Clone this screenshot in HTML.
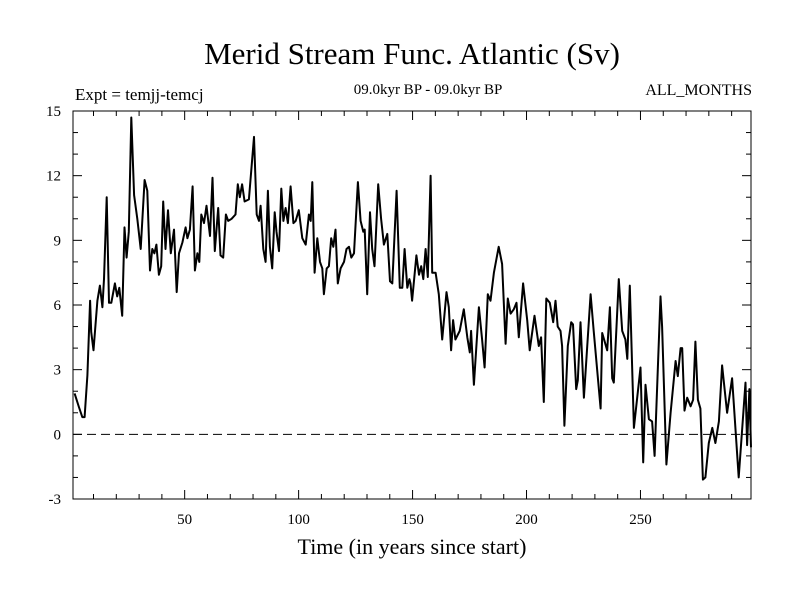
<!DOCTYPE html>
<html><head><meta charset="utf-8"><style>
html,body{margin:0;padding:0;background:#fff;}
svg{display:block;font-family:"Liberation Serif",serif;}
</style></head><body>
<svg id="chart" width="800" height="600" viewBox="0 0 800 600">
<rect width="800" height="600" fill="#fff"/>
<text x="412" y="64" font-size="31" text-anchor="middle">Merid Stream Func. Atlantic (Sv)</text>
<text x="75" y="100" font-size="17">Expt = temjj-temcj</text>
<text x="428" y="94" font-size="15" text-anchor="middle">09.0kyr BP - 09.0kyr BP</text>
<text x="752" y="95" font-size="16" text-anchor="end">ALL_MONTHS</text>
<text x="412" y="554" font-size="22" text-anchor="middle">Time (in years since start)</text>
<g id="axes"></g>
<g id="series"></g>
<rect x="73" y="111" width="678" height="388" fill="none" stroke="#000" stroke-width="1"/>
</svg>
<script>
const years = [1.7,3.6,5.1,6.1,7.3,8.5,9.0,10.0,11.7,12.8,13.9,14.6,15.8,16.8,17.8,19.4,20.4,21.3,22.6,23.6,24.5,25.5,26.6,27.8,29.2,30.7,32.4,33.6,34.8,35.8,36.7,37.6,38.7,39.7,40.6,41.6,42.7,43.9,45.3,46.5,47.5,49.0,50.4,51.2,52.3,53.5,54.5,55.6,56.4,57.3,58.5,59.6,61.1,62.2,63.2,64.7,65.7,66.9,68.1,69.1,70.6,72.3,73.3,74.2,75.2,
76.3,78.2,80.4,81.6,82.6,83.3,84.5,85.5,86.5,87.4,88.4,89.5,90.3,91.4,92.4,93.3,94.3,95.3,96.5,97.7,98.7,100.1,101.6,103.1,104.5,105.3,106.0,107.0,108.2,109.4,110.4,111.1,112.3,113.3,114.3,115.2,116.2,117.2,118.4,119.9,121.0,122.1,123.1,124.3,126.0,127.2,128.4,129.0,130.1,131.3,132.3,133.3,134.9,136.2,137.4,138.9,140.1,141.1,143.0,144.4,145.5,146.5,147.7,148.6,
149.1,149.8,151.7,152.8,153.8,154.7,155.7,156.7,157.9,158.6,160.1,161.5,163.0,164.9,165.9,166.9,167.8,168.8,170.7,172.5,174.0,175.1,175.7,176.9,179.1,180.5,181.6,183.0,184.2,185.7,187.8,189.3,190.8,191.8,193.0,194.4,195.6,196.6,198.5,200.3,201.4,203.5,205.4,206.4,207.6,208.7,210.2,211.7,212.7,213.7,214.9,215.6,216.6,218.1,219.6,220.4,221.8,222.5,223.7,
225.2,228.1,229.5,232.5,233.2,235.4,236.6,237.6,238.3,240.5,242.0,243.4,244.2,245.3,247.1,250.0,251.2,252.2,253.7,255.1,256.2,258.8,259.5,261.4,263.2,265.4,266.4,267.6,268.3,269.3,270.5,272.0,273.1,274.1,275.2,276.3,277.4,278.5,280.0,281.5,282.9,284.4,285.8,288.0,290.2,293.1,296.1,296.8,297.8,298.5];
const values = [1.9,1.27,0.8,0.8,2.74,6.2,4.75,3.9,6.2,6.9,5.9,7.2,11.0,6.1,6.1,7.0,6.4,6.8,5.5,9.6,8.2,9.4,14.7,11.1,10.0,8.6,11.8,11.3,7.6,8.6,8.4,8.8,7.4,7.8,10.8,8.6,10.4,8.4,9.5,6.6,8.4,8.9,9.6,9.1,9.5,11.5,7.6,8.4,8.0,10.2,9.8,10.6,9.2,11.9,8.5,10.5,8.3,8.2,10.2,9.9,10.0,10.2,11.6,11.0,11.6,
10.8,10.9,13.8,10.2,9.9,10.6,8.6,8.0,11.3,8.7,7.7,10.3,9.4,8.5,11.4,9.9,10.5,9.8,11.5,9.8,9.9,10.4,9.1,8.8,10.2,9.9,11.7,7.5,9.1,8.0,7.7,6.5,7.7,7.8,9.1,8.7,9.5,7.0,7.7,8.0,8.6,8.7,8.2,8.4,11.7,9.9,9.4,9.5,6.5,10.3,8.6,7.8,11.6,10.0,8.8,9.3,7.1,7.0,11.3,6.8,6.8,8.6,6.8,7.2,
7.0,6.2,8.3,7.4,7.8,7.2,8.6,7.3,12.0,7.5,7.5,6.5,4.4,6.6,5.9,3.9,5.3,4.4,4.8,5.8,4.5,3.8,4.8,2.3,5.9,4.4,3.1,6.5,6.2,7.5,8.7,7.9,4.2,6.3,5.6,5.8,6.1,4.5,7.0,5.3,3.9,5.5,4.1,4.5,1.5,6.3,6.1,5.2,6.2,5.0,4.8,4.1,0.4,4.1,5.2,5.1,2.1,2.5,5.2,
1.7,6.5,4.8,1.2,4.7,3.9,5.9,2.6,2.4,7.2,4.8,4.4,3.5,6.9,0.3,3.1,-1.3,2.3,0.7,0.6,-1.0,6.4,5.0,-1.4,1.0,3.4,2.7,4.0,4.0,1.1,1.7,1.3,1.6,4.3,1.6,1.2,-2.1,-2.0,-0.4,0.3,-0.4,0.6,3.2,1.0,2.6,-2.0,2.4,-0.5,2.1,-0.6];
const yTicks = [-3,0,3,6,9,12,15];
const xTicks = [50,100,150,200,250];

const X0=73, X1=751, Y0=499, Y1=111, xMin=1, xMax=298.5, yMin=-3, yMax=15;
function xs(v){return X0+(v-xMin)/(xMax-xMin)*(X1-X0);}
function ys(v){return Y0-(v-yMin)/(yMax-yMin)*(Y0-Y1);}
const NS="http://www.w3.org/2000/svg";
const axes=document.getElementById('axes');
function mk(tag,attrs,parent){const e=document.createElementNS(NS,tag);for(const k in attrs)e.setAttribute(k,attrs[k]);parent.appendChild(e);return e;}

for(let v=yMin+1; v<yMax; v++){
  const y=ys(v), major=(v%3===0);
  const len=major?9:5;
  const t1=mk('line',{x1:X0,x2:X0+len,y1:y,y2:y,stroke:'#000'},axes);
  
  
  const t2=mk('line',{x1:X1-len,x2:X1,y1:y,y2:y,stroke:'#000'},axes);
  
  
}
yTicks.forEach(v=>{
  const t=mk('text',{x:X0-12,y:ys(v)+5,'font-size':15,'text-anchor':'end'},axes);
  t.textContent=v;
  
  
});
for(let v=10; v<xMax; v+=10){
  const x=xs(v), major=(v%50===0), len=major?9:5;
  const a=mk('line',{x1:x,x2:x,y1:Y0,y2:Y0-len,stroke:'#000'},axes);
  
  
  const b=mk('line',{x1:x,x2:x,y1:Y1,y2:Y1+len,stroke:'#000'},axes);
  
  
}
xTicks.forEach(v=>{
  const t=mk('text',{x:xs(v),y:Y0+25,'font-size':15,'text-anchor':'middle'},axes);
  t.textContent=v;
  
  
});
const zl=mk('line',{x1:X0,x2:X1,y1:ys(0),y2:ys(0),stroke:'#000','stroke-dasharray':'9,5'},axes);



const series=document.getElementById('series');
const pts=years.map((yr,i)=>xs(yr).toFixed(1)+','+ys(values[i]).toFixed(1)).join(' ');
const pl=mk('polyline',{points:pts,fill:'none',stroke:'#000','stroke-width':2,'stroke-linejoin':'round'},series);


</script>
</body></html>
